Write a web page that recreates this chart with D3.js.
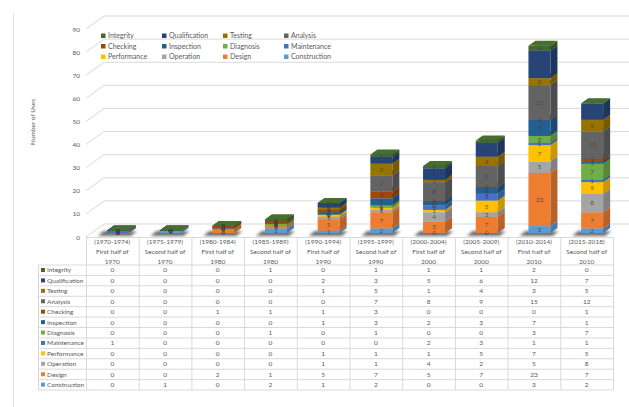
<!DOCTYPE html>
<html>
<head>
<meta charset="utf-8">
<script src="https://cdn.jsdelivr.net/npm/d3@7/dist/d3.min.js"></script>
<style>
  html, body { margin: 0; padding: 0; background: #fff; }
  svg { display: block; font-family: Lato, "Open Sans", "Liberation Sans", sans-serif; }
</style>
</head>
<body>
<svg id="chart" width="629" height="407"></svg>
<script>
// Periods (table header lines)
const periods = ["(1970-1974)", "(1975-1979)", "(1980-1984)", "(1985-1989)", "(1990-1994)",
                 "(1995-1999)", "(2000-2004)", "(2005-2009)", "(2010-2014)", "(2015-2018)"];
const halves  = ["First half of", "Second half of", "First half of", "Second half of", "First half of",
                 "Second half of", "First half of", "Second half of", "First half of", "Second half of"];
const decades = ["1970", "1970", "1980", "1980", "1990", "1990", "2000", "2000", "2010", "2010"];

// Uses per category and period
const integrity     = [0, 0, 0, 1, 0, 1, 1, 1, 2, 0];
const qualification = [0, 0, 0, 0, 2, 3, 5, 6, 12, 7];
const testing       = [0, 0, 0, 0, 1, 5, 1, 4, 3, 5];
const analysis      = [0, 0, 0, 0, 0, 7, 8, 9, 15, 12];
const checking      = [0, 0, 1, 1, 1, 3, 0, 0, 0, 1];
const inspection    = [0, 0, 0, 0, 1, 3, 2, 3, 7, 1];
const diagnosis     = [0, 0, 0, 1, 0, 1, 0, 0, 3, 7];
const maintenance   = [1, 0, 0, 0, 0, 0, 2, 3, 1, 1];
const performance   = [0, 0, 0, 0, 1, 1, 1, 5, 7, 5];
const operation     = [0, 0, 0, 0, 1, 1, 4, 2, 5, 8];
const design        = [0, 0, 2, 1, 5, 7, 5, 7, 23, 7];
const construction  = [0, 1, 0, 2, 1, 2, 0, 0, 3, 2];

const yTicks = [0, 10, 20, 30, 40, 50, 60, 70, 80, 90];

// Series, listed top of stack first (table / legend order)
const series = [
  { name: "Integrity",     values: integrity,     color: "#43682B" },
  { name: "Qualification", values: qualification, color: "#264478" },
  { name: "Testing",       values: testing,       color: "#997300" },
  { name: "Analysis",      values: analysis,      color: "#636363" },
  { name: "Checking",      values: checking,      color: "#9E480E" },
  { name: "Inspection",    values: inspection,    color: "#255E91" },
  { name: "Diagnosis",     values: diagnosis,     color: "#70AD47" },
  { name: "Maintenance",   values: maintenance,   color: "#4472C4" },
  { name: "Performance",   values: performance,   color: "#FFC000" },
  { name: "Operation",     values: operation,     color: "#A5A5A5" },
  { name: "Design",        values: design,        color: "#ED7D31" },
  { name: "Construction",  values: construction,  color: "#5B9BD5" }
];

const svg = d3.select("#chart");
const textCol = "#595959";
const gridCol = "#d9d9d9";

// plot geometry
const left = 86, right = 613;
const depthX = 18, depthY = -13;           // back wall offset
const barDX = 5.5, barDY = -4;             // bars sit part-way into the depth
const sideDX = 7, sideDY = -5;             // bar thickness in depth
const barW = 22;

const x = d3.scaleBand().domain(periods).range([left, right]).padding(0);
const y = d3.scaleLinear().domain([0, 90]).range([237, 29]);

// chart frame line on the left
svg.append("line").attr("x1", 13.5).attr("x2", 13.5).attr("y1", 14).attr("y2", 407)
  .attr("stroke", "#e3e3e3").attr("stroke-width", 1);

// back wall gridlines and side-wall diagonals
const grid = svg.append("g");
yTicks.forEach(t => {
  const yy = y(t);
  grid.append("path")
    .attr("d", `M${left},${yy}L${left + depthX},${yy + depthY}L${right + depthX},${yy + depthY}`)
    .attr("fill", "none").attr("stroke", gridCol).attr("stroke-width", 1);
});

// tick labels
const axis = d3.axisLeft(y).tickValues(yTicks).tickSize(0).tickPadding(0);
const ag = svg.append("g").attr("transform", `translate(${left - 6},0)`).call(axis);
ag.select(".domain").remove();
ag.selectAll("text").attr("fill", textCol).style("font-size", "6.5px")
  .style("font-family", "Lato, 'Open Sans', sans-serif");

// axis title
svg.append("text")
  .attr("transform", "translate(35,122) rotate(-90)")
  .attr("text-anchor", "middle").attr("fill", textCol).style("font-size", "6.5px")
  .text("Number  of  Uses");

// defs: blur for shadows
const defs = svg.append("defs");
defs.append("filter").attr("id", "soft").attr("x", "-50%").attr("y", "-200%")
  .attr("width", "200%").attr("height", "500%")
  .append("feGaussianBlur").attr("stdDeviation", 1.6);

// stacked data, bottom series first
const bottomFirst = series.slice().reverse();
const stackData = periods.map((p, i) => {
  const row = { period: p };
  bottomFirst.forEach(s => { row[s.name] = s.values[i]; });
  return row;
});
const stack = d3.stack().keys(bottomFirst.map(s => s.name));
const layers = stack(stackData);
const colorOf = d3.scaleOrdinal().domain(series.map(s => s.name)).range(series.map(s => s.color));

// shadows under the bars
const shadowG = svg.append("g");
const bx = p => x(p) + x.bandwidth() / 2 + barDX - 11;
periods.forEach(p => {
  const x0 = bx(p);
  const x1 = x0 + barW;
  const yb = y(0) + barDY;
  shadowG.append("path")
    .attr("d", `M${x0 - 9},${yb + 3}L${x1 + 2},${yb + 3}L${x1 + 8},${yb - 2}L${x0 - 3},${yb - 2}Z`)
    .attr("fill", "#3a3a3a").attr("opacity", 0.75).attr("filter", "url(#soft)");
});

// 3D bars; zero-height segments still draw their top face, so the
// uppermost series colours the lid of every column
const barsG = svg.append("g");
layers.forEach(layer => {
  const c = d3.color(colorOf(layer.key));
  const side = c.darker(0.7);
  const top = c.brighter(0.15);
  layer.forEach((d, i) => {
    const p = periods[i];
    const x0 = bx(p), x1 = x0 + barW;
    const yb = y(d[0]) + barDY, yt = y(d[1]) + barDY;
    const g = barsG.append("g");
    if (d[1] - d[0] > 0) {
      g.append("rect").attr("x", x0).attr("y", yt).attr("width", barW).attr("height", yb - yt)
        .attr("fill", c.formatHex());
      g.append("path")
        .attr("d", `M${x1},${yt}L${x1 + sideDX},${yt + sideDY}L${x1 + sideDX},${yb + sideDY}L${x1},${yb}Z`)
        .attr("fill", side.formatHex());
    }
    g.append("path")
      .attr("d", `M${x0},${yt}L${x1},${yt}L${x1 + sideDX},${yt + sideDY}L${x0 + sideDX},${yt + sideDY}Z`)
      .attr("fill", top.formatHex());
  });
});

// data labels on every segment
const labelG = svg.append("g");
layers.forEach(layer => {
  layer.forEach((d, i) => {
    const p = periods[i];
    const cx = bx(p) + barW / 2;
    const cy = (y(d[0]) + y(d[1])) / 2 + barDY;
    labelG.append("text").attr("x", cx).attr("y", cy).attr("dy", "0.35em")
      .attr("text-anchor", "middle").attr("fill", "#404040").attr("fill-opacity", 0.85)
      .style("font-size", "6.5px").text(d[1] - d[0]);
  });
});

// legend
const legendCols = [101, 162, 223, 284];
const legendRows = [36, 46.5, 57];
series.forEach((s, k) => {
  const lx = legendCols[k % 4], ly = legendRows[Math.floor(k / 4)];
  svg.append("rect").attr("x", lx).attr("y", ly - 2.5).attr("width", 4.5).attr("height", 4.5).attr("fill", s.color);
  svg.append("text").attr("x", lx + 7).attr("y", ly).attr("dy", "0.35em")
    .attr("fill", textCol).style("font-size", "7px").text(s.name);
});

// data table
const tableTop = 237, headerBottom = 265, rowH = 10.42, tableLeft = 38;
const tableBottom = headerBottom + rowH * series.length;
const tg = svg.append("g");
tg.append("line").attr("x1", left).attr("x2", right).attr("y1", tableTop + 0.5).attr("y2", tableTop + 0.5)
  .attr("stroke", gridCol);
periods.forEach((p, i) => {
  const cx = x(p) + x.bandwidth() / 2;
  [periods[i], halves[i], decades[i]].forEach((t, j) => {
    tg.append("text").attr("x", cx).attr("y", 242 + j * 9.8).attr("dy", "0.35em")
      .attr("text-anchor", "middle").attr("fill", textCol).style("font-size", "6.5px").text(t);
  });
});
x.domain().concat(["end"]).forEach((p, i) => {
  const xx = i < periods.length ? x(p) : right;
  tg.append("line").attr("x1", xx + 0.5).attr("x2", xx + 0.5).attr("y1", tableTop).attr("y2", tableBottom)
    .attr("stroke", gridCol);
});
tg.append("line").attr("x1", tableLeft + 0.5).attr("x2", tableLeft + 0.5).attr("y1", headerBottom).attr("y2", tableBottom)
  .attr("stroke", gridCol);
for (let r = 0; r <= series.length; r++) {
  const yy = headerBottom + r * rowH;
  tg.append("line").attr("x1", tableLeft).attr("x2", right).attr("y1", yy).attr("y2", yy)
    .attr("stroke", gridCol);
}
series.forEach((s, r) => {
  const cy = headerBottom + r * rowH + rowH / 2;
  tg.append("rect").attr("x", 41).attr("y", cy - 2.2).attr("width", 4).attr("height", 4).attr("fill", s.color);
  tg.append("text").attr("x", 47).attr("y", cy).attr("dy", "0.35em")
    .attr("fill", textCol).style("font-size", "6.5px").text(s.name);
  s.values.forEach((v, i) => {
    tg.append("text").attr("x", x(periods[i]) + x.bandwidth() / 2).attr("y", cy).attr("dy", "0.35em")
      .attr("text-anchor", "middle").attr("fill", textCol).style("font-size", "6.5px").text(v);
  });
});
</script>
</body>
</html>
